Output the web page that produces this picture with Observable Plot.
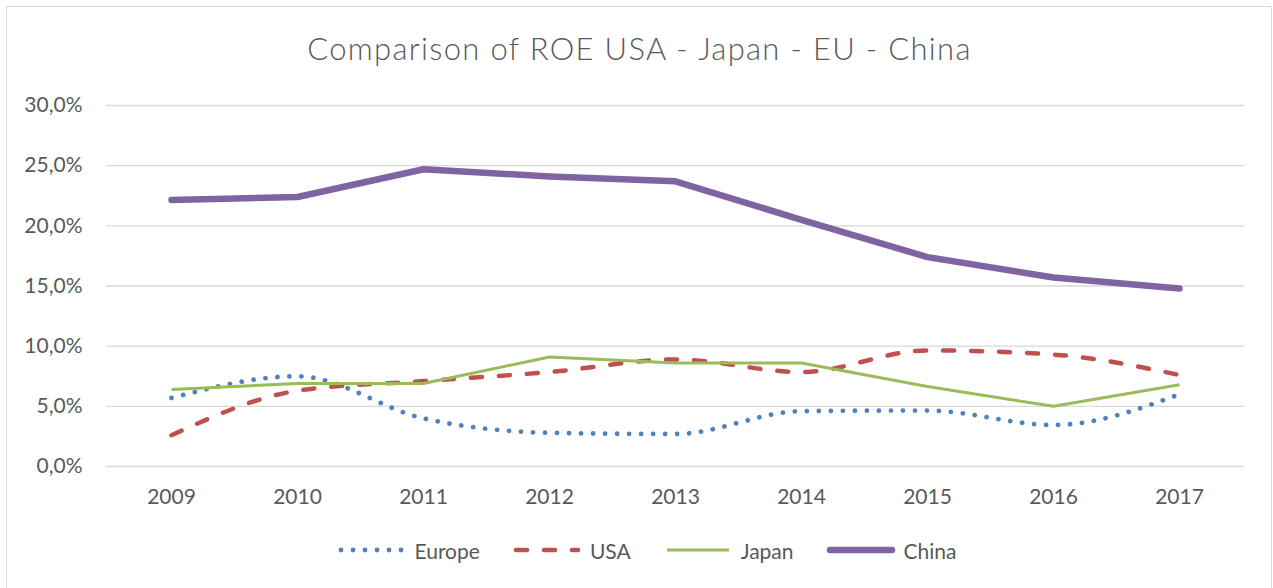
<!DOCTYPE html>
<html>
<head>
<meta charset="utf-8">
<script src="https://cdn.jsdelivr.net/npm/d3@7"></script>
<script src="https://cdn.jsdelivr.net/npm/@observablehq/plot@0.6"></script>
<style>
  html, body { margin: 0; padding: 0; background: #fff; }
  body { width: 1273px; height: 588px; overflow: hidden; position: relative; font-family: Lato, "Open Sans", sans-serif; color: #595959; }
  #frame { position: absolute; left: 6px; top: 6px; width: 1266px; height: 620px; border: 1px solid #d9d9d9; box-sizing: border-box; pointer-events: none; }
  #title { height: 80px; padding-top: 18px; box-sizing: border-box; text-align: center; font-size: 31px; font-weight: 300; letter-spacing: 1.3px; line-height: 60px; padding-left: 6px; color: #595959; }
  #chart { height: 440px; }
  #chart svg { display: block; }
  #legend { height: 60px; display: flex; align-items: center; justify-content: center; font-size: 21px; padding-left: 20px; box-sizing: border-box; }
  .item { display: flex; align-items: center; margin: 0 16px; }
  .item svg { margin-right: 8px; }
</style>
</head>
<body>
<div id="frame"></div>
<div id="title">Comparison of ROE USA - Japan - EU - China</div>
<div id="chart"></div>
<div id="legend"></div>
<script>
const years = ["2009", "2010", "2011", "2012", "2013", "2014", "2015", "2016", "2017"];
const europe = [5.7, 7.5, 4.0, 2.8, 2.7, 4.6, 4.65, 3.45, 6.0];
const usa = [2.6, 6.3, 7.1, 7.85, 8.9, 7.85, 9.65, 9.3, 7.6];
const japan = [6.4, 6.9, 6.9, 9.1, 8.6, 8.6, 6.65, 5.0, 6.8];
const china = [22.15, 22.4, 24.7, 24.1, 23.7, 20.5, 17.4, 15.7, 14.8];
const seriesNames = ["Europe", "USA", "Japan", "China"];
const yTicks = [0, 5, 10, 15, 20, 25, 30];

const styles = {
  Europe: {stroke: "#4f81bd", strokeWidth: 4.8, strokeDasharray: "0.01 12", strokeLinecap: "round", curve: "monotone-x"},
  USA: {stroke: "#c0504d", strokeWidth: 4.5, strokeDasharray: "11 17", strokeLinecap: "round", curve: "monotone-x"},
  Japan: {stroke: "#9bbb59", strokeWidth: 3, strokeLinecap: "butt", curve: "linear"},
  China: {stroke: "#8064a2", strokeWidth: 6.5, strokeLinecap: "round", curve: "linear"}
};
const valuesBy = {Europe: europe, USA: usa, Japan: japan, China: china};

const rows = name => years.map((year, i) => ({year, value: valuesBy[name][i], series: name}));
const fmt = d => d.toFixed(1).replace(".", ",") + "%";

const chart = Plot.plot({
  width: 1273,
  height: 440,
  marginLeft: 106,
  marginRight: 29,
  marginTop: 25,
  marginBottom: 54,
  style: {fontFamily: "Lato, 'Open Sans', sans-serif", fontSize: "21px", color: "#595959", background: "transparent", overflow: "visible"},
  x: {type: "point", domain: years, padding: 0.5, label: null},
  y: {domain: [0, 30], label: null},
  marks: [
    Plot.gridY(yTicks, {stroke: "#d9d9d9", strokeOpacity: 1, strokeWidth: 1.3}),
    Plot.axisX({tickSize: 0, tickPadding: 23, label: null, fontSize: 21}),
    Plot.axisY(yTicks, {tickSize: 0, tickPadding: 24, tickFormat: fmt, label: null, fontSize: 21}),
    ...seriesNames.map(name => Plot.line(rows(name), {x: "year", y: "value", ...styles[name], strokeLinejoin: "round"}))
  ]
});
document.getElementById("chart").appendChild(chart);

const legend = document.getElementById("legend");
for (const name of seriesNames) {
  const s = styles[name];
  const item = document.createElement("div");
  item.className = "item";
  const ns = "http://www.w3.org/2000/svg";
  const sw = document.createElementNS(ns, "svg");
  sw.setAttribute("width", 70);
  sw.setAttribute("height", 12);
  const ln = document.createElementNS(ns, "line");
  ln.setAttribute("x1", 4); ln.setAttribute("x2", 66);
  ln.setAttribute("y1", 6); ln.setAttribute("y2", 6);
  ln.setAttribute("stroke", s.stroke);
  ln.setAttribute("stroke-width", s.strokeWidth);
  ln.setAttribute("stroke-linecap", s.strokeLinecap);
  if (s.strokeDasharray) ln.setAttribute("stroke-dasharray", s.strokeDasharray);
  sw.appendChild(ln);
  const label = document.createElement("span");
  label.textContent = name;
  item.appendChild(sw);
  item.appendChild(label);
  legend.appendChild(item);
}
</script>
</body>
</html>
